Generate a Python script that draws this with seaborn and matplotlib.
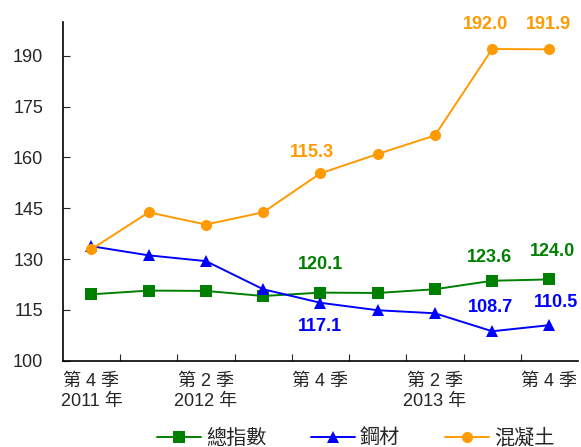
import seaborn as sns
import matplotlib.pyplot as plt
import pandas as pd

# quarters: Q4 2011 .. Q4 2013
quarters = list(range(9))
tick_pos = [0, 2, 4, 6, 8]
tick_labels = ['第 4 季\n2011 年', '第 2 季\n2012 年', '第 4 季', '第 2 季\n2013 年', '第 4 季']

series_names = ['總指數', '鋼材', '混凝土']
total_idx = [119.6, 120.7, 120.6, 119.1, 120.1, 120.0, 121.1, 123.6, 124.0]
steel = [133.8, 131.1, 129.4, 121.1, 117.1, 114.9, 114.0, 108.7, 110.5]
concrete = [132.9, 143.8, 140.2, 143.8, 155.3, 161.0, 166.5, 192.0, 191.9]

colors = {'總指數': '#008000', '鋼材': '#0000FF', '混凝土': '#FF9A00'}
markers = {'總指數': 's', '鋼材': '^', '混凝土': 'o'}

# annotated values (text as printed on the chart)
annotations = [
    ('總指數', 4, '120.1'), ('總指數', 7, '123.6'), ('總指數', 8, '124.0'),
    ('鋼材', 4, '117.1'), ('鋼材', 7, '108.7'), ('鋼材', 8, '110.5'),
    ('混凝土', 4, '115.3'), ('混凝土', 7, '192.0'), ('混凝土', 8, '191.9'),
]
# offsets in points
offsets = {
    ('總指數', 4): (0, 20), ('總指數', 7): (-2, 17), ('總指數', 8): (2, 20),
    ('鋼材', 4): (0, -17), ('鋼材', 7): (-1.5, 17), ('鋼材', 8): (5, 16),
    ('混凝土', 4): (-6, 15), ('混凝土', 7): (-5, 18), ('混凝土', 8): (-1, 18),
}

df = pd.DataFrame({
    'q': quarters * 3,
    'value': total_idx + steel + concrete,
    'series': [s for s in series_names for _ in quarters],
})

sns.set_theme(style='ticks')
plt.rcParams['font.family'] = ['Liberation Sans', 'Noto Sans CJK TC', 'DejaVu Sans']

fig = plt.figure(figsize=(5.81, 4.47), dpi=100)
ax = fig.add_axes([0.108, 0.193, 0.887, 0.758])

sns.lineplot(data=df, x='q', y='value', hue='series', style='series',
             palette=colors, markers=markers, dashes=False, markersize=8,
             markeredgewidth=0, linewidth=1.4, ax=ax)

values = {'總指數': total_idx, '鋼材': steel, '混凝土': concrete}
for name, i, txt in annotations:
    dx, dy = offsets[(name, i)]
    ax.annotate(txt, (i, values[name][i]), xytext=(dx, dy), textcoords='offset points',
                ha='center', va='center', color=colors[name], fontsize=13,
                fontweight='bold')

ax.set_xlim(-0.5, 8.5)
ax.set_ylim(100, 200)
ax.set_yticks(range(100, 191, 15))
ax.set_xticks(tick_pos)
ax.set_xticklabels(tick_labels, fontsize=13, linespacing=1.2)
ax.set_xticks([i + 0.5 for i in range(8)], minor=True)
ax.tick_params(axis='x', which='major', length=0, pad=9)
ax.tick_params(axis='x', which='minor', direction='in', length=5, width=0.8)
ax.tick_params(axis='y', direction='in', length=5, width=0.8, labelsize=13, pad=14)
ax.set_xlabel('')
ax.set_ylabel('')
sns.despine(ax=ax)
for sp in ['left', 'bottom']:
    ax.spines[sp].set_linewidth(1.2)
    ax.spines[sp].set_color('black')

handles, labels = ax.get_legend_handles_labels()
ax.legend(handles, labels, loc='lower center', bbox_to_anchor=(0.568, -0.31),
          ncol=3, frameon=False, fontsize=14.5, handlelength=2.2,
          columnspacing=2.2, handletextpad=0.25)

fig.savefig('out.png', dpi=100)
